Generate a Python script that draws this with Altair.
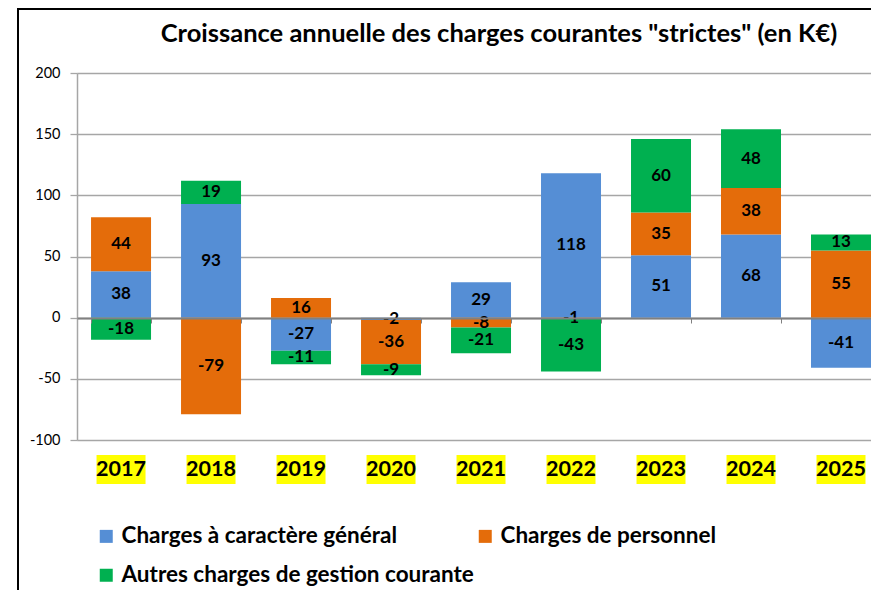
import altair as alt
import pandas as pd

years = ['2017', '2018', '2019', '2020', '2021', '2022', '2023', '2024', '2025']
general = [38, 93, -27, -2, 29, 118, 51, 68, -41]
personnel = [44, -79, 16, -36, -8, -1, 35, 38, 55]
autres = [-18, 19, -11, -9, -21, -43, 60, 48, 13]
series = ['Charges à caractère général', 'Charges de personnel', 'Autres charges de gestion courante']
colors = ['#558ED5', '#E46C0A', '#00B050']
y_ticks = [-100, -50, 0, 50, 100, 150, 200]
title_text = 'Croissance annuelle des charges courantes "strictes" (en K€)'

FONT = 'Lato'

rows = []
for i, yr in enumerate(years):
    for k, (name, vals) in enumerate(zip(series, [general, personnel, autres])):
        rows.append({'year': yr, 'serie': name, 'order': k, 'value': vals[i], 'label': str(vals[i])})
df = pd.DataFrame(rows)
df_years = pd.DataFrame({'year': years})
df_frame = pd.DataFrame({'k': [0]})

base = alt.Chart(df).transform_stack(
    stack='value', groupby=['year'], as_=['v0', 'v1'],
    sort=[alt.SortField('order', order='ascending')]
).transform_calculate(mid='(datum.v0 + datum.v1) / 2')

x_main = alt.X('year:N', sort=years,
               scale=alt.Scale(paddingInner=1/3, paddingOuter=0.078, align=1),
               axis=alt.Axis(title=None, labels=False, grid=False,
                             domainColor='#808080', domainWidth=2,
                             tickColor='#808080', tickSize=5, tickWidth=1,
                             tickBand='extent', offset=-122, zindex=1))
y_main = alt.Y('v0:Q', scale=alt.Scale(domain=[-100, 200], nice=False, zero=False),
               axis=alt.Axis(values=y_ticks, title=None, grid=True,
                             gridColor='#A6A6A6', gridWidth=1.3,
                             domainColor='#A6A6A6', domainWidth=1.5,
                             tickColor='#A6A6A6', tickSize=7, tickWidth=1.3,
                             labelPadding=10, labelFont=FONT, labelFontSize=14.5,
                             labelColor='black', labelExpr='toString(datum.value)',
                             zindex=0))

bars = base.mark_bar().encode(
    x=x_main,
    y=y_main,
    y2='v1:Q',
    color=alt.Color('serie:N', scale=alt.Scale(domain=series, range=colors),
                    legend=alt.Legend(orient='none', legendX=18, legendY=452,
                                      columns=2, direction='horizontal', title=None,
                                      symbolType='square', symbolSize=169,
                                      symbolStrokeWidth=0, symbolOpacity=1,
                                      labelFont=FONT, labelFontWeight='bold',
                                      labelFontSize=22.5, labelColor='black',
                                      labelLimit=600, labelOffset=4,
                                      rowPadding=16, columnPadding=0)),
)

labels = base.mark_text(font=FONT, fontWeight='bold', fontSize=17,
                        color='black', baseline='middle').encode(
    x=alt.X('year:N', sort=years),
    y=alt.Y('mid:Q'),
    text='label:N',
)

year_boxes = alt.Chart(df_years).mark_bar(width=49, color='#FFFF00').encode(
    x=alt.X('year:N', sort=years),
    y=alt.value(382),
    y2=alt.value(411),
)
year_text = alt.Chart(df_years).mark_text(font=FONT, fontWeight='bold', fontSize=21.5,
                                          color='black', baseline='middle').encode(
    x=alt.X('year:N', sort=years),
    y=alt.value(397),
    text='year:N',
)

frame = alt.Chart(df_frame).mark_rect(filled=False, stroke='black', strokeWidth=2).encode(
    x=alt.value(-59), x2=alt.value(1000), y=alt.value(-64), y2=alt.value(800)
)

chart = alt.layer(frame, bars, labels, year_boxes, year_text).properties(
    width=794, height=367,
    title=alt.TitleParams(title_text, font=FONT, fontSize=25.5, fontWeight='bold',
                          color='black', anchor='middle', frame='group', dx=25, dy=43),
    autosize=alt.AutoSizeParams(type='none'),
    padding={'left': 69, 'top': 65, 'right': 0, 'bottom': 150},
).configure_view(stroke=None).configure(background='white')

chart.save('out.html', embed_options={'renderer': 'svg', 'actions': False})
